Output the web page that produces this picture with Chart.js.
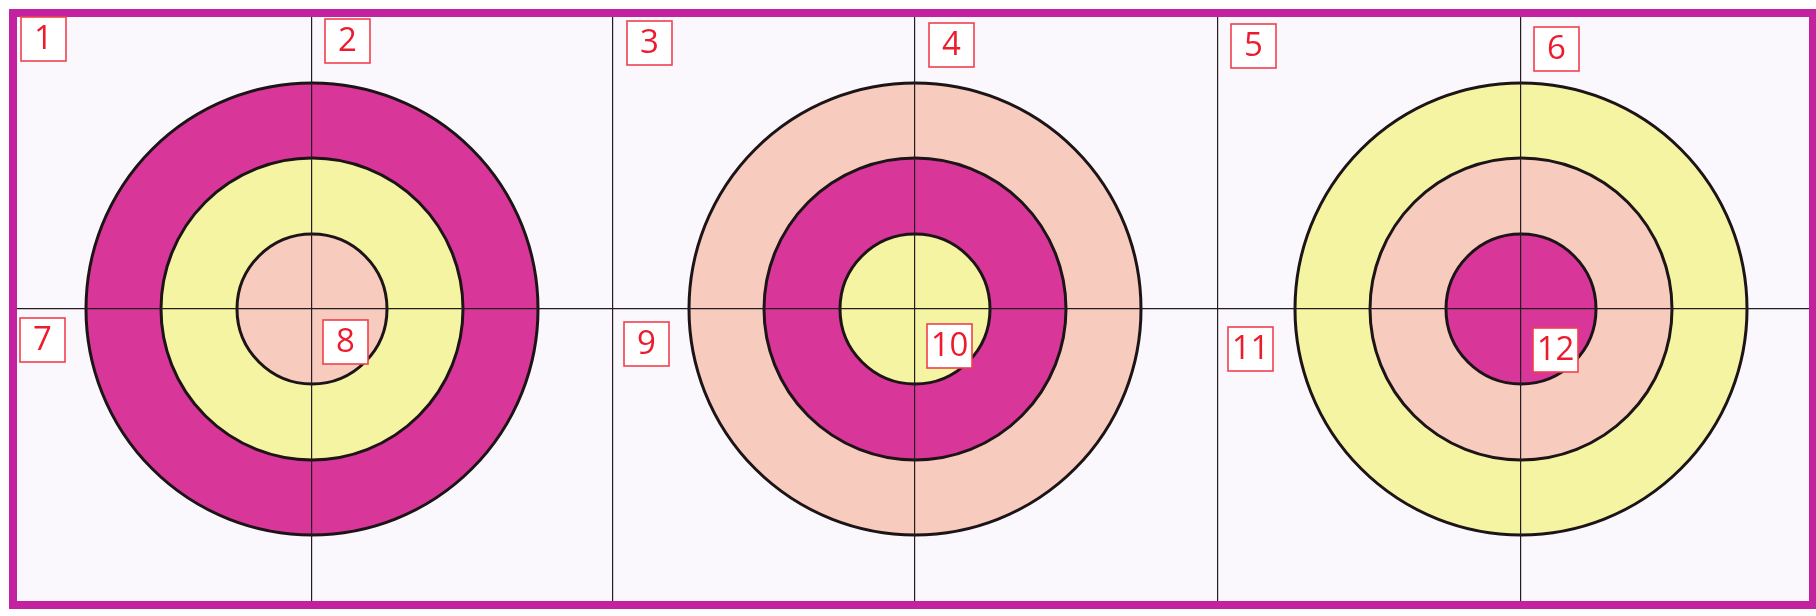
<!DOCTYPE html>
<html>
<head>
<meta charset="utf-8">
<script src="https://cdn.jsdelivr.net/npm/chart.js@4/dist/chart.umd.min.js"></script>
<style>
  html, body { margin: 0; padding: 0; background: #fff; }
  #wrap { width: 1816px; height: 616px; }
</style>
</head>
<body>
<div id="wrap"><canvas id="targets"></canvas></div>
<script>
// all positions are in reference-pixel units, mapped through the scales
const targetCentersX = [312, 915, 1521];
const targetCenterY = 309;
const ringRadii = [75, 151, 226]; // inner, middle, outer

const MAGENTA = '#d9369a';
const YELLOW = '#f4f4a2';
const PEACH = '#f7cbbe';

const innerColors = [PEACH, YELLOW, MAGENTA];
const middleColors = [YELLOW, MAGENTA, PEACH];
const outerColors = [MAGENTA, PEACH, YELLOW];

const xGridLines = [312, 613, 915, 1218, 1521];
const yGridLines = [309];

const boxLabels = ['1', '2', '3', '4', '5', '6', '7', '8', '9', '10', '11', '12'];
const boxLeft = [21, 325, 627, 929, 1231, 1534, 20, 323, 624, 927, 1228, 1533];
const boxTop = [17, 19, 21, 23, 24, 27, 318, 320, 322, 324, 327, 328];

function ring(r) {
  return targetCentersX.map((x) => ({ x, y: targetCenterY, size: r }));
}

// ring radius in px, taken from the x scale
function ringRadius(ctx) {
  const xs = ctx.chart.scales.x;
  if (!xs || !ctx.raw) return 0;
  const px = Math.abs(xs.getPixelForValue(ctx.raw.x + ctx.raw.size) - xs.getPixelForValue(ctx.raw.x));
  return isFinite(px) ? px : 0;
}

const framePlugin = {
  id: 'frame',
  beforeDraw(chart) {
    const { ctx, chartArea: a } = chart;
    ctx.save();
    ctx.fillStyle = '#faf8fc';
    ctx.fillRect(a.left, a.top, a.right - a.left, a.bottom - a.top);
    ctx.restore();
  },
  afterDraw(chart) {
    const { ctx, chartArea: a, scales } = chart;
    ctx.save();
    // outer magenta frame
    ctx.strokeStyle = '#c2229f';
    ctx.lineWidth = 8;
    ctx.strokeRect(a.left - 4, a.top - 4, a.right - a.left + 8, a.bottom - a.top + 8);

    // numbered boxes
    ctx.font = '33px "Open Sans", "Noto Sans", sans-serif';
    ctx.textAlign = 'center';
    ctx.textBaseline = 'middle';
    boxLabels.forEach((t, i) => {
      const x0 = scales.x.getPixelForValue(boxLeft[i]);
      const x1 = scales.x.getPixelForValue(boxLeft[i] + 45);
      const y0 = scales.y.getPixelForValue(boxTop[i]);
      const y1 = scales.y.getPixelForValue(boxTop[i] + 44);
      ctx.fillStyle = '#ffffff';
      ctx.fillRect(x0, y0, x1 - x0, y1 - y0);
      ctx.strokeStyle = '#f0404e';
      ctx.lineWidth = 1.6;
      ctx.strokeRect(x0, y0, x1 - x0, y1 - y0);
      ctx.fillStyle = '#ec1c2e';
      ctx.fillText(t, (x0 + x1) / 2, (y0 + y1) / 2 + 1);
    });
    ctx.restore();
  },
};

const ringStyle = {
  showLine: false,
  pointBorderColor: '#1c1417',
  pointBorderWidth: 3,
  pointRadius: ringRadius,
  pointHoverRadius: ringRadius,
};

new Chart(document.getElementById('targets'), {
  type: 'scatter',
  data: {
    datasets: [
      { label: 'inner', data: ring(ringRadii[0]), pointBackgroundColor: innerColors, ...ringStyle },
      { label: 'middle', data: ring(ringRadii[1]), pointBackgroundColor: middleColors, ...ringStyle },
      { label: 'outer', data: ring(ringRadii[2]), pointBackgroundColor: outerColors, ...ringStyle },
    ],
  },
  options: {
    responsive: true,
    maintainAspectRatio: false,
    animation: false,
    events: [],
    layout: { padding: { left: 17, right: 7, top: 17, bottom: 15 } },
    plugins: {
      legend: { display: false },
      tooltip: { enabled: false },
    },
    scales: {
      x: {
        type: 'linear',
        min: 17,
        max: 1809,
        border: { display: false },
        ticks: { display: false },
        grid: { z: 1, color: '#241c20', lineWidth: 1.2, drawTicks: false },
        afterBuildTicks: (s) => { s.ticks = xGridLines.map((v) => ({ value: v })); },
      },
      y: {
        type: 'linear',
        min: 17,
        max: 601,
        reverse: true,
        border: { display: false },
        ticks: { display: false },
        grid: { z: 1, color: '#241c20', lineWidth: 1.2, drawTicks: false },
        afterBuildTicks: (s) => { s.ticks = yGridLines.map((v) => ({ value: v })); },
      },
    },
  },
  plugins: [framePlugin],
});
</script>
</body>
</html>
